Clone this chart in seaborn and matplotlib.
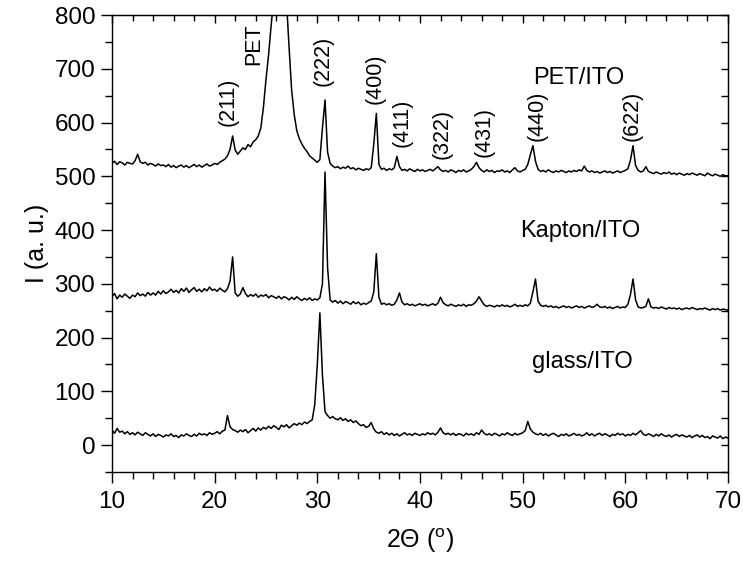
import matplotlib
matplotlib.use("Agg")
import matplotlib.pyplot as plt
import numpy as np
import pandas as pd
import seaborn as sns
from matplotlib.ticker import MultipleLocator

# 2-theta grid, 0.25 deg steps from 10 to 70
two_theta = np.arange(10.0, 70.001, 0.25)

# intensities, one row of four values per degree
pet_ito = [
    524, 528, 522, 527, 525, 521, 526, 524, 523, 529, 541, 527,
    524, 526, 521, 524, 522, 519, 523, 520, 521, 518, 522, 517,
    520, 516, 519, 521, 517, 520, 516, 519, 522, 518, 521, 517,
    520, 523, 519, 521, 524, 522, 526, 529, 532, 538, 550, 575,
    549, 541, 547, 553, 550, 559, 555, 564, 568, 575, 590, 628,
    680, 725, 780, 830, 880, 910, 900, 870, 825, 740, 660, 615,
    585, 570, 560, 552, 546, 538, 534, 530, 526, 531, 590, 642,
    545, 524, 519, 516, 518, 514, 517, 515, 519, 514, 516, 512,
    515, 513, 511, 514, 512, 516, 560, 617, 522, 513, 515, 511,
    514, 512, 516, 537, 518, 511, 513, 510, 514, 511, 509, 513,
    510, 512, 509, 511, 513, 510, 514, 518, 512, 509, 511, 508,
    512, 510, 507, 511, 509, 512, 508, 510, 513, 518, 526, 516,
    511, 508, 512, 509, 511, 507, 510, 509, 512, 508, 510, 507,
    512, 516, 510, 508, 511, 513, 522, 540, 557, 528, 513, 509,
    511, 508, 512, 509, 507, 510, 508, 511, 509, 507, 510, 508,
    511, 509, 512, 510, 519, 511, 508, 510, 507, 509, 506, 508,
    510, 507, 509, 506, 508, 510, 507, 509, 511, 514, 530, 557,
    520, 511, 508, 510, 518, 509, 507, 505, 508, 506, 504, 507,
    505, 508, 504, 506, 503, 506, 504, 502, 505, 503, 506, 504,
    502, 505, 503, 501, 506, 503, 501, 504, 502, 500, 503, 501,
    501,
]

kapton_ito = [
    276, 282, 272, 279, 275, 281, 277, 273, 279, 276, 283, 278,
    281, 277, 284, 279, 283, 279, 286, 281, 287, 282, 285, 290,
    284, 288, 283, 291, 286, 292, 284, 289, 293, 286, 290, 285,
    291, 287, 294, 288, 290, 286, 292, 288, 285, 291, 305, 350,
    283, 277, 281, 293, 282, 276, 280, 277, 281, 275, 279, 277,
    280, 274, 278, 276, 273, 277, 272, 276, 274, 270, 275, 271,
    276, 272, 269, 273, 270, 274, 269, 272, 270, 274, 300, 508,
    330, 270, 266, 269, 264, 268, 263, 267, 265, 262, 267, 263,
    266, 261, 264, 262, 265, 268, 285, 356, 275, 262, 264, 261,
    263, 260, 262, 270, 283, 266, 261, 263, 260, 262, 259, 261,
    263, 260, 262, 259, 261, 263, 260, 264, 275, 265, 261, 259,
    262, 260, 258, 261, 259, 262, 258, 261, 260, 263, 268, 276,
    268, 261, 258, 260, 259, 257, 260, 258, 261, 258, 260, 257,
    259, 262, 258, 260, 258, 261, 259, 264, 285, 309, 268, 260,
    258, 260, 257, 259, 256, 258, 255, 257, 259, 256, 258, 255,
    257, 259, 256, 258, 255, 257, 259, 256, 258, 262, 257, 256,
    258, 255, 257, 254, 256, 258, 255, 257, 256, 262, 280, 309,
    270, 257, 255, 256, 258, 272, 257, 255, 256, 254, 257, 255,
    253, 256, 254, 255, 253, 255, 252, 254, 255, 253, 256, 254,
    252, 254, 253, 255, 253, 251, 254, 252, 254, 251, 253, 252,
    251,
]

glass_ito = [
    28, 22, 31, 24, 26, 21, 25, 20, 23, 19, 24, 21,
    18, 23, 20, 17, 21, 16, 20, 18, 15, 19, 17, 21,
    16, 18, 14, 19, 17, 21, 18, 16, 20, 17, 22, 19,
    21, 18, 23, 20, 22, 25, 21, 26, 28, 55, 34, 29,
    27, 24, 28, 25, 29, 23, 27, 31, 26, 32, 28, 33,
    30, 35, 31, 36, 33, 29, 37, 34, 38, 32, 36, 40,
    37, 41, 38, 43, 40, 44, 47, 75, 150, 246, 130, 62,
    55, 50, 53, 49, 47, 51, 46, 49, 44, 47, 42, 45,
    40, 36, 38, 33, 35, 42, 30, 24, 22, 25, 20, 23,
    19, 22, 18, 21, 17, 20, 23, 19, 21, 18, 22, 20,
    18, 21, 19, 23, 20, 22, 19, 24, 32, 23, 20, 22,
    19, 22, 18, 21, 20, 17, 22, 19, 21, 18, 23, 20,
    28, 22, 19, 21, 18, 22, 20, 17, 21, 19, 23, 20,
    18, 22, 19, 21, 23, 27, 44, 30, 24, 21, 19, 22,
    18, 21, 17, 20, 22, 19, 16, 20, 18, 21, 17, 19,
    22, 18, 20, 17, 19, 23, 18, 21, 17, 20, 22, 18,
    21, 19, 16, 20, 18, 22, 19, 21, 17, 20, 18, 22,
    19, 23, 27, 20, 18, 21, 19, 16, 20, 17, 21, 18,
    16, 19, 15, 18, 20, 16, 19, 17, 15, 18, 14, 17,
    19, 15, 18, 14, 16, 12, 17, 15, 13, 17, 12, 15,
    13,
]

# peak labels: (text, 2theta, intensity of label centre)
peak_labels = ["(211)", "PET", "(222)", "(400)", "(411)", "(322)", "(431)", "(440)", "(622)"]
peak_x = [21.3, 23.8, 30.55, 35.63, 38.27, 42.2, 46.2, 51.45, 60.7]
peak_y = [638, 746, 715, 681, 600, 578, 582, 612, 612]

sample_names = ["PET/ITO", "Kapton/ITO", "glass/ITO"]
sample_x = [55.5, 55.6, 55.8]
sample_y = [683, 399, 155]

df = pd.DataFrame({
    "two_theta": np.tile(two_theta, 3),
    "intensity": pet_ito + kapton_ito + glass_ito,
    "sample": np.repeat(sample_names, len(two_theta)),
})

sns.set_style("ticks")
plt.rcParams["font.family"] = ["Liberation Sans", "DejaVu Sans"]
plt.rcParams["mathtext.fontset"] = "custom"
plt.rcParams["mathtext.rm"] = "Liberation Sans"
plt.rcParams["text.color"] = "black"
plt.rcParams["axes.labelcolor"] = "black"
plt.rcParams["xtick.color"] = "black"
plt.rcParams["ytick.color"] = "black"

fig = plt.figure(figsize=(7.43, 5.71), dpi=100)
ax = fig.add_axes([0.1507, 0.1734, 0.8291, 0.8003])

sns.lineplot(
    data=df,
    x="two_theta",
    y="intensity",
    units="sample",
    estimator=None,
    color="black",
    linewidth=1.1,
    legend=False,
    ax=ax,
)

ax.set_xlim(10, 70)
ax.set_ylim(-50, 800)
ax.xaxis.set_major_locator(MultipleLocator(10))
ax.xaxis.set_minor_locator(MultipleLocator(2))
ax.yaxis.set_major_locator(MultipleLocator(100))
ax.yaxis.set_minor_locator(MultipleLocator(50))
ax.tick_params(which="major", direction="out", length=8, width=1, labelsize=17.5, pad=4, colors="black")
ax.tick_params(which="minor", direction="out", length=5, width=1, colors="black")
ax.tick_params(axis="x", which="major", pad=6)

for side in ["left", "bottom", "top", "right"]:
    ax.spines[side].set_visible(True)
    ax.spines[side].set_linewidth(1.0)
    ax.spines[side].set_color("black")

# mirrored ticks pointing inwards on top and right
top = ax.secondary_xaxis("top")
top.xaxis.set_major_locator(MultipleLocator(10))
top.xaxis.set_minor_locator(MultipleLocator(2))
top.tick_params(which="both", direction="in", labeltop=False, width=1, colors="black")
top.tick_params(which="major", length=6)
top.tick_params(which="minor", length=4)
right = ax.secondary_yaxis("right")
right.yaxis.set_major_locator(MultipleLocator(100))
right.yaxis.set_minor_locator(MultipleLocator(50))
right.tick_params(which="both", direction="in", labelright=False, width=1, colors="black")
right.tick_params(which="major", length=5)
right.tick_params(which="minor", length=5)

ax.set_xlabel("2\u0398 ($^{\\mathregular{o}}$)", fontsize=18, labelpad=9, color="black")
ax.set_ylabel("I (a. u.)", fontsize=18, labelpad=4, color="black")

for label, px, py in zip(peak_labels, peak_x, peak_y):
    ax.text(px, py, label, rotation=90, ha="center", va="center", fontsize=15.5, color="black")

for name, sx, sy in zip(sample_names, sample_x, sample_y):
    ax.text(sx, sy, name, ha="center", va="center", fontsize=17, color="black")

fig.savefig("out.png", dpi=100)
